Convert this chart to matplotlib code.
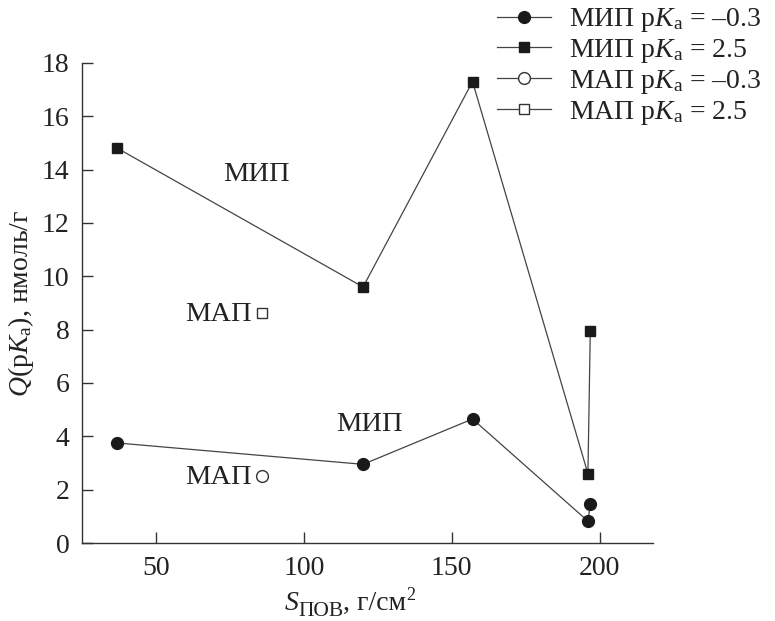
import matplotlib
matplotlib.use("Agg")
import matplotlib.pyplot as plt
from matplotlib.transforms import IdentityTransform

plt.rcParams['font.family'] = ['Liberation Serif', 'DejaVu Serif']
plt.rcParams['mathtext.fontset'] = 'custom'
plt.rcParams['mathtext.rm'] = 'Liberation Serif'
plt.rcParams['mathtext.it'] = 'Liberation Serif:italic'

# data
mip_x = [37, 120, 157, 196, 196.8]
mip_low = [3.75, 2.95, 4.65, 0.82, 1.45]     # pKa = -0.3
mip_high = [14.8, 9.6, 17.3, 2.6, 7.95]      # pKa = 2.5
map_x = [86]
map_low = [2.5]
map_high = [8.62]

labels = ['МИП p$K_\\mathrm{a}$ = \u20130.3', 'МИП p$K_\\mathrm{a}$ = 2.5',
          'МАП p$K_\\mathrm{a}$ = \u20130.3', 'МАП p$K_\\mathrm{a}$ = 2.5']
txt = '#222222'

fig = plt.figure(figsize=(7.75, 6.21), dpi=100)
ax = fig.add_axes([0.1058, 0.1256, 0.7368, 0.773])

lc = '#444444'
ax.plot(mip_x, mip_low, '-o', color=lc, lw=0.9, mfc='#1a1a1a', mec='#1a1a1a', ms=8.5, label=labels[0])
ax.plot(mip_x, mip_high, '-s', color=lc, lw=0.9, mfc='#1a1a1a', mec='#1a1a1a', ms=7.5, label=labels[1])
ax.plot(map_x, map_low, '-o', color=lc, lw=0.9, mfc='white', mec='#333333', ms=8.5, label=labels[2])
ax.plot(map_x, map_high, '-s', color=lc, lw=0.9, mfc='white', mec='#333333', ms=7.5, label=labels[3])

ax.text(84, 13.8, 'МИП', fontsize=20.5, ha='center', va='center', color=txt)
ax.text(122, 4.45, 'МИП', fontsize=20.5, ha='center', va='center', color=txt)
ax.text(82.5, 8.55, 'МАП', fontsize=20.5, ha='right', va='center', color=txt)
ax.text(82.5, 2.45, 'МАП', fontsize=20.5, ha='right', va='center', color=txt)

ax.set_xlim(25, 218)
ax.set_ylim(0, 18)
ax.set_xticks([50, 100, 150, 200])
ax.set_yticks(range(0, 19, 2))
for s in ['top', 'right']:
    ax.spines[s].set_visible(False)
for s in ['left', 'bottom']:
    ax.spines[s].set_color('#333333')
    ax.spines[s].set_linewidth(1.0)
ax.tick_params(direction='in', length=8, width=1, color='#333333',
               labelsize=20, labelcolor=txt, pad=9)

ax.set_ylabel('$Q$(p$K_\\mathrm{a}$), нмоль/г', fontsize=20, color=txt, labelpad=4)

leg = fig.legend(loc='upper right', bbox_to_anchor=(1.0, 1.012), frameon=False,
                 fontsize=20, handlelength=1.95, labelspacing=0.1, handletextpad=0.65,
                 borderaxespad=0.1)
for t in leg.get_texts():
    t.set_color(txt)

# x label built from pieces so the subscript stays large
pieces = [('S', 20, 'italic', 0), ('ПОВ', 15.5, 'normal', -6),
          (', г/см', 20, 'normal', 0), ('2', 13, 'normal', 10)]
fig.canvas.draw()
r = fig.canvas.get_renderer()
objs = []
for s, size, style, dy in pieces:
    objs.append(fig.text(0, 0, s, fontsize=size, style=style, color=txt,
                         transform=IdentityTransform(), va='baseline', ha='left'))
widths = [o.get_window_extent(r).width for o in objs]
x0 = 350 - sum(widths) / 2
base = 621 - 610
for o, w, (s, size, style, dy) in zip(objs, widths, pieces):
    o.set_position((x0, base + dy))
    x0 += w

fig.savefig('out.png', dpi=100)
